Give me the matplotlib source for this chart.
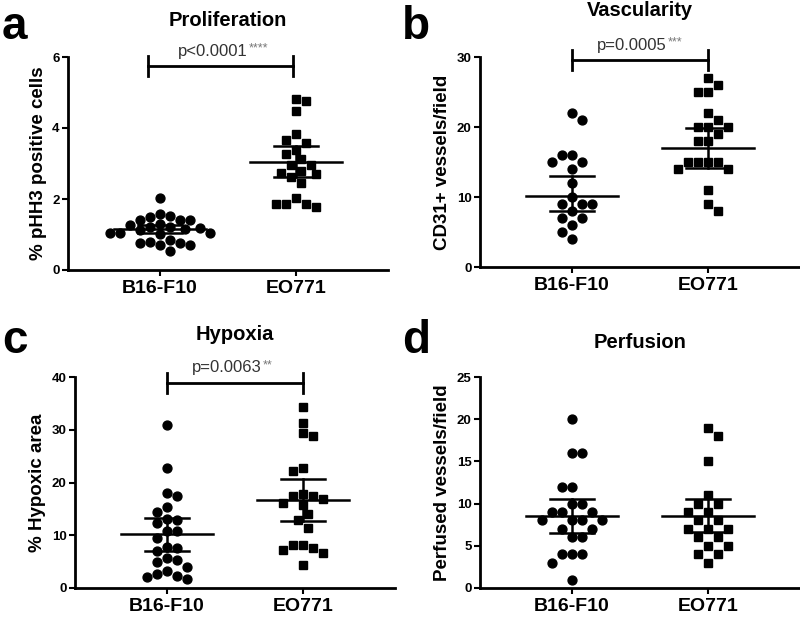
import matplotlib
matplotlib.use("Agg")
import matplotlib.pyplot as plt
import numpy as np

plt.rcParams['font.family'] = ['Liberation Sans', 'DejaVu Sans']

groups = ["B16-F10", "EO771"]

# panel a - proliferation
prolif_b16 = [2.02, 1.58, 1.52, 1.48, 1.41, 1.41, 1.41, 1.30, 1.28, 1.22, 1.20,
              1.18, 1.15, 1.12, 1.05, 1.04, 1.03, 1.02, 0.85, 0.80, 0.77, 0.77,
              0.70, 0.70, 0.54]
prolif_eo = [4.77, 4.82, 4.49, 3.82, 3.59, 3.66, 3.38, 3.27, 3.12, 2.96, 2.96,
             2.74, 2.80, 2.63, 2.70, 2.44, 2.02, 1.86, 1.77, 1.86, 1.86]
prolif_mean = [1.15, 3.03]
prolif_lo = [1.03, 2.61]
prolif_hi = [1.27, 3.49]

# panel b - vascularity
vasc_b16 = [22, 21, 16, 16, 15, 15, 14, 12, 10, 9, 9, 9, 8, 7, 7, 6, 5, 4]
vasc_eo = [27, 26, 25, 25, 22, 21, 20, 20, 20, 19, 18, 18, 15, 15, 15, 15,
           14, 14, 11, 9, 8]
vasc_mean = [10.2, 17.0]
vasc_lo = [8.0, 14.2]
vasc_hi = [13.0, 19.9]

# panel c - hypoxia
hyp_b16 = [30.9, 22.7, 18.1, 17.4, 15.4, 14.5, 12.8, 13.1, 12.3, 10.9, 10.9,
           9.4, 7.7, 7.0, 7.5, 5.4, 5.0, 5.6, 3.3, 2.2, 1.75, 2.0, 2.7, 3.9]
hyp_eo = [34.4, 31.3, 28.75, 29.4, 22.8, 22.1, 17.5, 16.9, 17.5, 17.9, 15.7,
          16.2, 14.0, 12.8, 11.4, 8.1, 7.5, 6.6, 7.2, 8.1, 4.4]
hyp_mean = [10.2, 16.6]
hyp_lo = [7.0, 12.7]
hyp_hi = [13.2, 20.7]

# panel d - perfusion
perf_b16 = [20, 16, 16, 12, 12, 10, 10, 9, 9, 9, 8, 8, 8, 8, 7, 7, 6, 6,
            4, 4, 4, 3, 1]
perf_eo = [19, 18, 15, 11, 10, 10, 9, 9, 8, 8, 7, 7, 7, 6, 6, 5, 5, 4, 4, 3]
perf_mean = [8.55, 8.55]
perf_lo = [6.5, 6.6]
perf_hi = [10.6, 10.6]


def swarm_offsets(ax, values, spacing_px=10.0):
    """simple beeswarm: returns x offsets (data units) for each value"""
    fig = ax.figure
    fig.canvas.draw()
    trans = ax.transData
    x_px_per_unit = trans.transform((1, 0))[0] - trans.transform((0, 0))[0]
    ys = [trans.transform((0, v))[1] for v in values]
    order = np.argsort(values)[::-1]
    placed = []
    offsets = np.zeros(len(values))
    step = spacing_px / 2.0
    for i in order:
        y = ys[i]
        n_right = sum(1 for px, _ in placed if px > 0)
        n_left = sum(1 for px, _ in placed if px < 0)
        sign = 1 if n_right <= n_left else -1
        cands = [0.0]
        for k in range(1, 40):
            cands += [sign * k * step, -sign * k * step]
        best = None
        for c in cands:
            ok = all((c - px) ** 2 + (y - py) ** 2 >= spacing_px ** 2 * 0.98
                     for px, py in placed)
            if ok:
                best = c
                break
        placed.append((best, y))
        offsets[i] = best / x_px_per_unit
    return offsets


def draw_panel(ax, b16, eo, mean, lo, hi, ylim, yticks, ylabel):
    ax.set_xlim(-0.676, 1.676)
    ax.set_ylim(*ylim)
    ax.set_yticks(yticks)
    ax.set_xticks([0, 1])
    ax.set_xticklabels(groups, fontsize=14, fontweight='bold')
    for lab in ax.get_yticklabels():
        lab.set_fontweight('bold')
        lab.set_fontsize(9.5)
    ax.set_ylabel(ylabel, fontsize=13.5, fontweight='bold', labelpad=4)
    for s in ['top', 'right']:
        ax.spines[s].set_visible(False)
    for s in ['left', 'bottom']:
        ax.spines[s].set_linewidth(2)
    ax.tick_params(direction='out', length=4, width=1.5, pad=2)
    ax.tick_params(axis='x', pad=3)

    for xi, vals, marker, ms in [(0, b16, 'o', 6.4), (1, eo, 's', 6.0)]:
        off = swarm_offsets(ax, vals)
        ax.plot(xi + off, vals, linestyle='none', marker=marker, ms=ms,
                color='black', clip_on=False, zorder=3)
        ax.plot([xi - 0.34, xi + 0.34], [mean[xi], mean[xi]], color='black',
                lw=1.8, zorder=4, clip_on=False)
        ax.plot([xi, xi], [lo[xi], hi[xi]], color='black', lw=1.8, zorder=4)
        for e in (lo[xi], hi[xi]):
            ax.plot([xi - 0.16, xi + 0.16], [e, e], color='black', lw=1.8,
                    zorder=4)


def bracket(ax, x0, x1, y, cap, ptext, stars, text_y):
    ax.plot([x0, x1], [y, y], color='black', lw=2, clip_on=False)
    for xx in (x0, x1):
        ax.plot([xx, xx], [y - cap, y + cap], color='black', lw=2,
                clip_on=False)
    xm = (x0 + x1) / 2
    t = ax.text(xm - 0.06, text_y, ptext, ha='center', va='bottom',
                fontsize=12, color='#333333', clip_on=False)
    ax.annotate(stars, xy=(1, 1), xycoords=t, xytext=(1, 1),
                textcoords='offset points', ha='left', va='top',
                fontsize=9, color='#777777', annotation_clip=False)


fig = plt.figure(figsize=(8, 6.17), dpi=100)

ax_a = fig.add_axes([68 / 800, 347 / 617, 320 / 800, 213 / 617])
ax_b = fig.add_axes([480 / 800, 350 / 617, 320 / 800, 210 / 617])
ax_c = fig.add_axes([75 / 800, 29 / 617, 320 / 800, 211 / 617])
ax_d = fig.add_axes([480 / 800, 29 / 617, 320 / 800, 211 / 617])

draw_panel(ax_a, prolif_b16, prolif_eo, prolif_mean, prolif_lo, prolif_hi,
           (0, 6), [0, 2, 4, 6], "% pHH3 positive cells")
draw_panel(ax_b, vasc_b16, vasc_eo, vasc_mean, vasc_lo, vasc_hi,
           (0, 30), [0, 10, 20, 30], "CD31+ vessels/field")
draw_panel(ax_c, hyp_b16, hyp_eo, hyp_mean, hyp_lo, hyp_hi,
           (0, 40), [0, 10, 20, 30, 40], "% Hypoxic area")
draw_panel(ax_d, perf_b16, perf_eo, perf_mean, perf_lo, perf_hi,
           (0, 25), [0, 5, 10, 15, 20, 25], "Perfused vessels/field")

bracket(ax_a, -0.09, 0.98, 5.75, 0.28, "p<0.0001", "****", 5.95)
bracket(ax_b, 0, 1, 29.6, 1.4, "p=0.0005", "***", 30.6)
bracket(ax_c, 0, 1, 38.8, 1.9, "p=0.0063", "**", 40.3)

titles = [(ax_a, "Proliferation", 597), (ax_b, "Vascularity", 606),
          (ax_c, "Hypoxia", 283), (ax_d, "Perfusion", 274)]
for ax, t, ypix in titles:
    pos = ax.get_position()
    fig.text((pos.x0 + pos.x1) / 2, ypix / 617, t, ha='center', va='center',
             fontsize=14.5, fontweight='bold')

for letter, xp, yp in [("a", 2, 612), ("b", 402, 612), ("c", 2, 298),
                       ("d", 402, 298)]:
    fig.text(xp / 800, yp / 617, letter, ha='left', va='top', fontsize=33,
             fontweight='bold')

fig.savefig("out.png", dpi=100)
